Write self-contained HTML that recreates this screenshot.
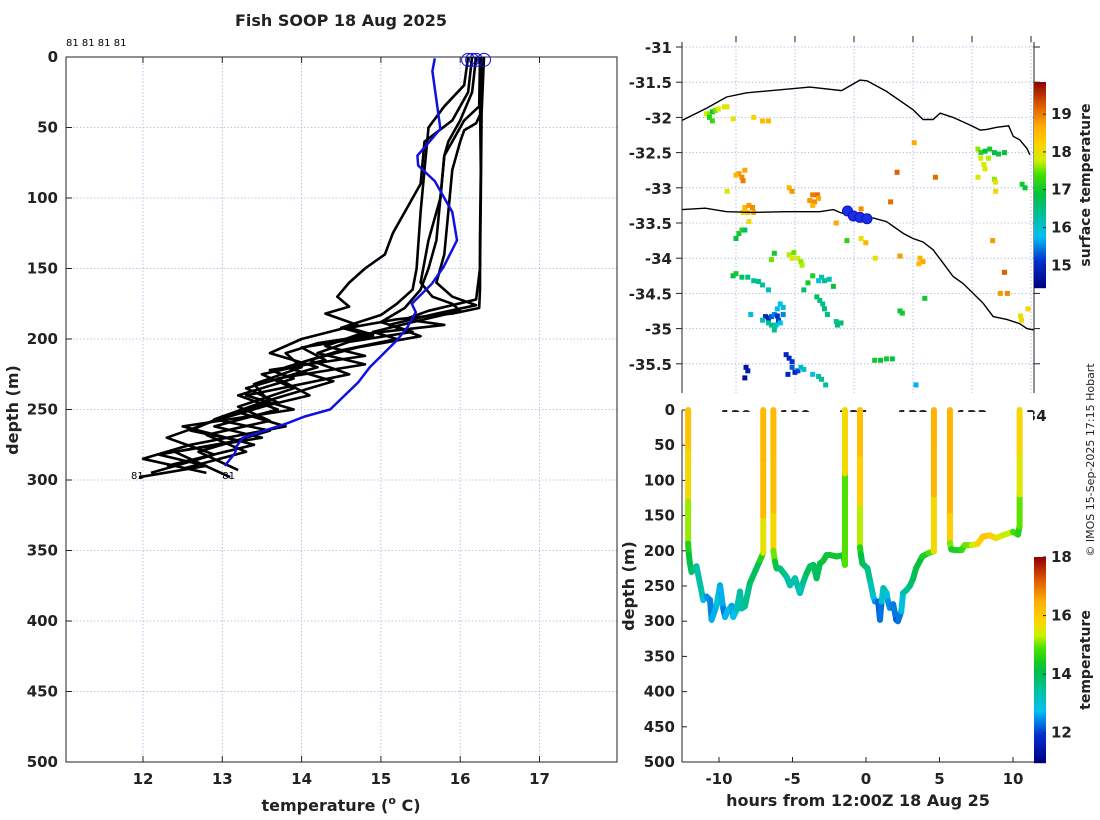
<!DOCTYPE html>
<html><head><meta charset="utf-8"><style>
html,body{margin:0;padding:0;background:#fff;}
svg{display:block;font-family:"DejaVu Sans","Liberation Sans",sans-serif;}
.tk{font-size:15px;font-weight:bold;fill:#222;}
.lb{font-size:16px;font-weight:bold;fill:#222;}
</style></head><body>
<svg id="fig" width="1100" height="820" viewBox="0 0 1100 820" xmlns="http://www.w3.org/2000/svg">
<text x="341" y="26" text-anchor="middle" class="lb">Fish SOOP 18 Aug 2025</text>
<text x="66" y="46" font-size="10" fill="#000">81 81 81 81</text>
<text transform="translate(18,410) rotate(-90)" text-anchor="middle" class="lb">depth (m)</text>
<text x="341" y="811" text-anchor="middle" class="lb">temperature (<tspan font-size="11" dy="-7">o</tspan><tspan dy="7"> C)</tspan></text>
<text transform="translate(634,586) rotate(-90)" text-anchor="middle" class="lb">depth (m)</text>
<text x="858" y="806" text-anchor="middle" class="lb">hours from 12:00Z 18 Aug 25</text>
<text transform="translate(1090,185) rotate(-90)" text-anchor="middle" font-size="14" font-weight="bold" fill="#222">surface temperature</text>
<text transform="translate(1090,660) rotate(-90)" text-anchor="middle" font-size="14" font-weight="bold" fill="#222">temperature</text>
<text transform="translate(1094,460) rotate(-90)" text-anchor="middle" font-size="11" fill="#222">© IMOS 15-Sep-2025 17:15 Hobart</text>
</svg>
<script>
// ---------- data: left profile plot ----------
const tempTicks=[12,13,14,15,16,17];
const depthTicks=[0,50,100,150,200,250,300,350,400,450,500];
const blueTemp=[15.68,15.65,15.75,15.46,15.47,15.68,15.9,15.96,15.79,15.64,15.39,15.44,15.33,15.2,14.86,14.71,14.36,14.04,13.81,13.26,13.18,13.16,13.03];
const blueDepth=[1,10,51,70,77,88,110,130,149,161,175,181,192,201,220,231,250,255,260,270,276,281,290];
const profTemps=[
[16.28,16.25,16.26,16.25,16.25,16.24,15.9,15.2,14.6,14.9,14.2,13.8,14.0,13.4,13.6,13.0,12.6,13.2,12.2,12.8,11.95],
[16.3,16.27,16.26,16.25,16.2,15.6,15.3,15.8,14.7,14.3,14.8,13.6,13.9,13.2,13.7,12.9,13.5,12.4,13.1],
[16.1,16.05,15.8,15.6,15.55,15.5,15.45,15.4,15.2,15.0,14.5,14.9,14.0,14.3,13.5,13.9,13.2,13.6,12.8,13.3,12.5],
[16.15,16.1,15.9,15.55,15.5,15.3,15.15,15.05,14.8,14.6,14.45,14.6,14.3,14.7,14.0,13.6,14.2,13.3,13.7,12.9,12.3,12.9,12.1],
[16.2,16.15,16.0,15.85,15.8,15.75,15.7,15.6,15.5,15.3,15.0,15.4,14.6,14.2,14.8,13.7,14.1,13.2,13.8,12.6,12.0,12.8],
[16.25,16.24,16.05,15.95,15.8,15.75,15.6,15.5,15.65,15.9,16.0,15.4,14.9,15.2,14.5,13.8,14.4,13.5,12.9,13.6,12.7,13.2],
[16.27,16.26,16.2,16.05,16.0,15.9,15.85,15.8,15.7,15.9,16.2,15.7,15.1,15.5,14.7,14.1,14.6,13.3,13.9,12.5,13.4,12.3]
];
const profDepths=[
[0,30,80,130,165,178,182,186,192,197,203,210,220,232,245,255,265,272,282,290,298],
[0,40,100,150,172,180,186,190,197,205,212,222,228,240,250,262,270,280,298],
[0,20,35,50,80,110,150,165,175,183,192,198,206,215,225,235,248,258,268,280,292],
[0,25,45,60,90,110,125,140,150,160,170,177,182,190,200,210,220,235,245,258,270,282,295],
[0,25,45,60,70,100,130,150,165,178,188,195,202,210,218,228,240,252,262,275,285,295],
[0,35,45,55,70,100,130,160,170,175,180,188,195,200,208,220,230,245,257,265,280,293],
[0,40,47,52,60,80,110,140,160,170,176,182,190,198,206,215,225,240,250,262,275,290]
];
const surfTemps=[16.1,16.15,16.2,16.3];
const endTemps=[11.95,13.1];
const endDepths=[298,298];
// ---------- data: map ----------
const latTicks=[-31,-31.5,-32,-32.5,-33,-33.5,-34,-34.5,-35,-35.5];
const lonTicks=[129,130,131,132,133,134];
const lonTickLabels=["129","130","131","132","133","134"];
const coastLon=[128.09,128.50,128.84,129.18,129.86,130.25,130.79,131.10,131.22,131.55,132.0,132.17,132.34,132.46,132.68,132.97,133.14,133.25,133.42,133.62,133.70,133.81,133.93,133.98];
const coastLat=[-32.04,-31.87,-31.71,-31.65,-31.60,-31.57,-31.62,-31.47,-31.48,-31.63,-31.89,-32.03,-32.03,-31.94,-32.0,-32.11,-32.18,-32.17,-32.14,-32.12,-32.27,-32.32,-32.44,-32.53];
const shelfLon=[128.09,128.48,128.84,129.29,129.86,130.42,130.65,130.76,130.99,131.33,131.55,131.84,132.0,132.17,132.34,132.51,132.68,132.85,133.02,133.19,133.36,133.59,133.81,133.93,134.06];
const shelfLat=[-33.31,-33.29,-33.34,-33.35,-33.34,-33.34,-33.31,-33.35,-33.41,-33.43,-33.48,-33.65,-33.72,-33.77,-33.88,-34.07,-34.26,-34.36,-34.50,-34.64,-34.83,-34.87,-34.93,-35.0,-35.02];
const trackLon=[130.89,130.99,131.10,131.22];
const trackLat=[-33.33,-33.40,-33.42,-33.44];
const sstCells=[
[128.5,-31.95,17.8],[128.55,-31.95,17.6],[128.55,-32.0,17.2],[128.6,-31.92,17.0],[128.65,-31.9,17.5],[128.6,-32.05,17.3],[128.7,-31.88,17.8],[128.8,-31.85,18.0],[128.85,-31.85,17.9],[128.95,-32.02,18.0],[129.3,-32.0,18.2],[129.45,-32.05,18.5],[129.55,-32.05,18.6],
[129.05,-32.8,18.8],[129.1,-32.85,18.9],[129.15,-32.75,18.7],[129.12,-32.9,19.0],[129.0,-32.82,18.6],
[129.9,-33.0,18.6],[129.95,-33.05,18.8],
[130.3,-33.1,19.0],[130.38,-33.1,19.1],[130.25,-33.18,18.8],[130.33,-33.2,18.9],[130.4,-33.15,18.7],[130.3,-33.25,18.6],
[129.15,-33.28,18.6],[129.22,-33.25,18.8],[129.28,-33.28,18.9],[129.3,-33.35,18.7],[129.2,-33.35,18.4],[129.12,-33.35,18.2],[129.22,-33.48,18.0],
[129.05,-33.65,17.0],[129.1,-33.6,17.2],[129.0,-33.72,16.9],[129.15,-33.6,16.7],
[129.9,-33.95,17.7],[129.98,-33.92,17.5],[130.05,-34.0,17.8],[130.1,-34.05,17.6],[129.95,-34.0,17.9],[130.12,-34.1,17.7],[129.6,-34.02,17.5],[129.65,-33.93,17.0],
[128.95,-34.25,16.8],[129.0,-34.22,17.0],[129.1,-34.27,16.6],[129.2,-34.27,16.5],[129.3,-34.32,16.4],[129.38,-34.33,16.5],[129.45,-34.38,16.3],[129.55,-34.45,16.2],
[130.15,-34.45,16.6],[130.22,-34.35,17.0],[130.3,-34.25,17.1],[130.45,-34.27,16.2],[130.5,-34.32,16.4],[130.58,-34.3,16.2],[130.4,-34.32,15.8],[130.65,-34.4,16.9],
[130.37,-34.55,16.7],[130.42,-34.6,16.5],[130.47,-34.65,16.4],[130.5,-34.72,16.6],[130.55,-34.8,16.5],[130.7,-34.9,16.3],[130.78,-34.92,16.6],[130.72,-34.95,16.5],
[129.25,-34.8,15.9],[129.5,-34.83,15.0],[129.55,-34.85,14.9],[129.6,-34.83,15.3],[129.65,-34.8,15.5],[129.7,-34.72,15.8],[129.75,-34.65,15.8],[129.8,-34.7,15.9],[129.8,-34.8,15.5],[129.72,-34.88,15.2],[129.55,-34.92,16.3],[129.6,-34.95,16.5],[129.68,-34.95,16.0],[129.65,-35.02,16.4],[129.75,-34.92,15.8],[129.45,-34.88,16.2],[129.7,-34.82,15.1],
[129.85,-35.37,15.0],[129.9,-35.42,14.9],[129.95,-35.47,15.1],[129.95,-35.55,15.3],[130.0,-35.62,14.8],[130.05,-35.6,15.2],[130.15,-35.58,16.0],[129.88,-35.65,15.0],[130.3,-35.65,15.8],[130.4,-35.68,16.3],[130.45,-35.72,16.4],[130.52,-35.8,16.3],[130.1,-35.55,16.1],
[129.17,-35.55,14.7],[129.2,-35.6,14.8],[129.15,-35.7,14.6],
[131.35,-35.45,17.0],[131.45,-35.45,16.9],[131.55,-35.43,17.0],[131.65,-35.43,16.8],
[131.78,-34.75,16.9],[131.82,-34.78,17.0],[132.2,-34.57,17.0],
[132.12,-34.0,18.6],[132.17,-34.05,18.7],[132.1,-34.08,18.5],
[133.1,-32.45,17.6],[133.15,-32.5,17.2],[133.22,-32.48,16.8],[133.3,-32.45,17.0],[133.38,-32.5,16.8],[133.45,-32.52,16.9],[133.55,-32.5,16.9],[133.15,-32.58,17.8],[133.28,-32.58,17.7],
[133.2,-32.67,17.8],[133.22,-32.73,17.9],[133.1,-32.85,17.9],[133.38,-32.88,17.6],[133.4,-32.92,18.0],[133.4,-33.05,18.1],
[133.85,-32.95,17.0],[133.9,-33.0,16.9],[133.82,-34.82,18.0],[133.84,-34.88,18.1],
[132.02,-32.36,18.7],[131.73,-32.78,19.2],[132.38,-32.85,19.1],[131.62,-33.2,19.1],[133.35,-33.75,18.8],[133.55,-34.2,19.2],[133.48,-34.5,18.8],[133.6,-34.5,18.9],[130.88,-33.75,17.2],[131.2,-33.78,18.6],[131.12,-33.72,18.0],[131.36,-34.0,18.0],[131.78,-33.97,18.8],[132.05,-35.8,15.7],[128.85,-33.05,17.9],[130.7,-33.5,18.7],[131.12,-33.3,18.9],[133.95,-34.72,18.2]
];
const sstTicks=[15,16,17,18,19];
// ---------- data: time/depth plot ----------
const hourTicks=[-10,-5,0,5,10];
const diveHours=[
[-12.1,-12.1,-12.1,-12.1,-12.05,-11.98,-11.87,-11.53,-11.07,-10.85,-10.61,-10.5,-10.16,-9.93,-9.71,-9.59,-9.37,-9.14,-9.03,-8.8,-8.57,-8.46,-8.24,-7.9,-7.22,-6.99,-6.99,-6.99,-6.99],
[-6.3,-6.3,-6.3,-6.3,-6.2,-6.08,-5.85,-5.4,-5.17,-4.83,-4.49,-4.26,-4.04,-3.81,-3.58,-3.36,-3.13,-2.9,-2.68,-2.45,-2.0,-1.54,-1.43,-1.43,-1.43],
[-0.41,-0.41,-0.41,-0.41,-0.35,-0.25,0.1,0.3,0.5,0.61,0.83,0.95,1.06,1.18,1.4,1.5,1.62,1.85,2.06,2.17,2.4,2.52,2.75,2.98,3.2,3.4,3.83,4.28,4.62,4.62,4.62,4.62],
[5.71,5.71,5.71,5.71,5.8,6.03,6.5,6.71,7.2,7.6,7.94,8.4,8.84,9.3,10.0,10.34,10.45,10.45,10.45,10.45]
];
const diveDepths=[
[0,60,130,190,205,218,230,222,270,265,270,298,277,249,282,294,284,278,294,284,258,282,279,246,214,203,150,70,0],
[0,70,150,200,215,225,225,237,249,239,260,244,232,222,220,239,218,214,206,206,208,206,220,90,0],
[0,70,140,195,205,218,225,245,265,272,272,298,272,253,260,272,281,276,298,300,286,260,256,250,240,225,208,203,201,120,50,0],
[0,80,150,189,198,199,199,192,192,190,180,178,182,178,173,177,165,120,60,0]
];
const diveTemps=[
[16.3,16.0,15.6,14.7,14.3,14.1,13.9,13.8,13.0,12.6,12.3,12.5,12.8,13.1,12.2,12.5,12.9,12.7,12.5,13.0,13.6,13.2,13.4,13.8,14.1,15.0,16.2,16.3,16.3],
[16.3,16.3,16.1,15.5,14.5,14.1,13.8,13.6,13.1,13.6,13.1,13.5,13.9,14.0,14.0,13.8,14.1,14.2,14.3,14.3,14.3,14.3,14.2,15.6,15.9],
[16.3,16.1,15.7,14.8,14.3,14.0,13.8,13.5,13.0,12.6,12.4,12.0,12.6,13.5,13.2,12.6,12.3,12.6,12.1,12.0,12.6,13.2,13.4,13.6,13.9,14.1,14.3,14.6,15.2,16.3,16.4,16.4],
[16.3,16.4,16.3,15.6,14.5,14.3,14.6,14.8,15.2,15.7,16.1,16.2,15.7,15.5,15.1,14.5,14.6,15.3,15.7,15.9]
];
const btmTempTicks=[12,14,16,18];

// ---------- helpers ----------
const svg=document.getElementById('fig');
const NS='http://www.w3.org/2000/svg';
function mk(tag,attrs,parent){const e=document.createElementNS(NS,tag);for(const k in attrs)e.setAttribute(k,attrs[k]);(parent||svg).appendChild(e);return e;}
const stops=[[0,[0,0,127]],[0.13,[0,48,208]],[0.25,[0,192,240]],[0.35,[0,192,160]],[0.45,[0,192,64]],[0.55,[64,224,0]],[0.62,[208,240,0]],[0.7,[255,208,0]],[0.78,[255,176,0]],[0.88,[224,96,0]],[1,[144,0,0]]];
function cmap(f){f=Math.max(0,Math.min(1,f));for(let i=1;i<stops.length;i++){if(f<=stops[i][0]){const a=stops[i-1],b=stops[i];const u=(f-a[0])/(b[0]-a[0]);const c=a[1].map((v,j)=>Math.round(v+(b[1][j]-v)*u));return `rgb(${c[0]},${c[1]},${c[2]})`;}}return 'rgb(144,0,0)';}
const GRID='#a8b4e0';

// ---------- left plot ----------
const L={x0:66,x1:617,y0:57,y1:762};
const xT=t=>143+(t-12)*79.3;
const yD=d=>L.y0+d*1.41;
const gL=mk('g',{});


tempTicks.forEach(t=>{
 const l=mk('line',{x1:xT(t),x2:xT(t),y1:L.y0,y2:L.y1,stroke:GRID,'stroke-width':0.8,'stroke-dasharray':'1.5,2'},gL);
 
 
 mk('line',{x1:xT(t),x2:xT(t),y1:L.y0,y2:L.y0+6,stroke:'#222'},gL);
 mk('line',{x1:xT(t),x2:xT(t),y1:L.y1,y2:L.y1-6,stroke:'#222'},gL);
 const tx=mk('text',{x:xT(t),y:784,'text-anchor':'middle',class:'tk'},gL);tx.textContent=t;
 
 
});
depthTicks.forEach(d=>{
 const l=mk('line',{x1:L.x0,x2:L.x1,y1:yD(d),y2:yD(d),stroke:GRID,'stroke-width':0.8,'stroke-dasharray':'1.5,2'},gL);
 
 
 mk('line',{x1:L.x0,x2:L.x0+6,y1:yD(d),y2:yD(d),stroke:'#222'},gL);
 const tx=mk('text',{x:58,y:yD(d)+5,'text-anchor':'end',class:'tk'},gL);tx.textContent=d;
 
 
});
const boxL=mk('rect',{x:L.x0,y:L.y0,width:L.x1-L.x0,height:L.y1-L.y0,fill:'none',stroke:'#222','stroke-width':1},gL);


profTemps.forEach((ts,i)=>{
 const pts=ts.map((t,j)=>xT(t).toFixed(1)+','+yD(profDepths[i][j]).toFixed(1)).join(' ');
 const p=mk('polyline',{points:pts,fill:'none',stroke:'#000','stroke-width':2.6,'stroke-linejoin':'round'},gL);
 
 
});
const bl=mk('polyline',{points:blueTemp.map((t,j)=>xT(t).toFixed(1)+','+yD(blueDepth[j]).toFixed(1)).join(' '),fill:'none',stroke:'#1010e0','stroke-width':2.5},gL);


surfTemps.forEach(t=>{
 const c=mk('circle',{cx:xT(t),cy:yD(2),r:6.5,fill:'none',stroke:'#1010e0','stroke-width':1},gL);
 
 
});
endTemps.forEach((t,i)=>{
 const tx=mk('text',{x:xT(t)-8,y:yD(endDepths[i])+2,'font-size':10,fill:'#000'},gL);tx.textContent='81';
 
 
});

// ---------- map ----------
const M={x0:682,x1:1034,y0:42,y1:393};
const xL=lon=>736+(lon-129)*59;
const yL=lat=>47+(-31-lat)*70.4;
const sMin=14.4,sMax=19.85;
const gM=mk('g',{});


mk('clipPath',{id:'mclip'},gM);
mk('rect',{x:M.x0,y:M.y0,width:M.x1-M.x0,height:M.y1-M.y0},document.getElementById('mclip'));
latTicks.forEach(la=>{
 const l=mk('line',{x1:M.x0,x2:M.x1,y1:yL(la),y2:yL(la),stroke:GRID,'stroke-width':0.8,'stroke-dasharray':'1.5,2'},gM);
 
 
 mk('line',{x1:M.x0-6,x2:M.x0,y1:yL(la),y2:yL(la),stroke:'#222'},gM);
 mk('line',{x1:M.x1,x2:M.x1+6,y1:yL(la),y2:yL(la),stroke:'#222'},gM);
 const tx=mk('text',{x:672,y:yL(la)+6,'text-anchor':'end',class:'tk'},gM);tx.textContent=la;
 
 
});
lonTicks.forEach((lo,i)=>{
 const l=mk('line',{x1:xL(lo),x2:xL(lo),y1:M.y0,y2:M.y1,stroke:GRID,'stroke-width':0.8,'stroke-dasharray':'1.5,2'},gM);
 
 
 mk('line',{x1:xL(lo),x2:xL(lo),y1:M.y0-6,y2:M.y0,stroke:'#222'},gM);
 const tx=mk('text',{x:xL(lo),y:421,'text-anchor':'middle',class:'tk'},gM);tx.textContent=lonTickLabels[i];
 
 
});
const cg=mk('g',{'clip-path':'url(#mclip)'},gM);
sstCells.forEach(c=>{
 const r=mk('rect',{x:xL(c[0])-2.5,y:yL(c[1])-2.5,width:5,height:5,fill:cmap((c[2]-sMin)/(sMax-sMin))},cg);
 
 
});
const co=mk('polyline',{points:coastLon.map((v,i)=>xL(v).toFixed(1)+','+yL(coastLat[i]).toFixed(1)).join(' '),fill:'none',stroke:'#000','stroke-width':1.4},cg);


const sh=mk('polyline',{points:shelfLon.map((v,i)=>xL(v).toFixed(1)+','+yL(shelfLat[i]).toFixed(1)).join(' '),fill:'none',stroke:'#000','stroke-width':1.4},cg);


trackLon.forEach((v,i)=>{
 const c=mk('circle',{cx:xL(v),cy:yL(trackLat[i]),r:5,fill:'#1a2ee8',stroke:'#1010c0'},cg);
 
 
});
mk('line',{x1:M.x0,x2:M.x0,y1:M.y0,y2:M.y1,stroke:'#222'},gM);
mk('line',{x1:M.x1,x2:M.x1,y1:M.y0,y2:M.y1,stroke:'#222'},gM);
// map colorbar
const CB1={x:1034,w:12,y0:82,y1:288};
const ySc=t=>CB1.y1-(t-sMin)/(sMax-sMin)*(CB1.y1-CB1.y0);
for(let y=CB1.y0;y<CB1.y1;y+=2){const f=(CB1.y1-y-1)/(CB1.y1-CB1.y0);mk('rect',{x:CB1.x,y:y,width:CB1.w,height:2.2,fill:cmap(f)},gM);}
sstTicks.forEach(t=>{
 mk('line',{x1:CB1.x+CB1.w-3,x2:CB1.x+CB1.w,y1:ySc(t),y2:ySc(t),stroke:'#222'},gM);
 const tx=mk('text',{x:1051,y:ySc(t)+5,class:'tk'},gM);tx.textContent=t;
 
 
});

// ---------- time-depth plot ----------
const B={x0:682,x1:1034,y0:410,y1:762};
const xH=h=>866+h*14.7;
const yB=d=>B.y0+d*0.704;
const bMin=11,bMax=18;
const gB=mk('g',{});


mk('rect',{x:B.x0+1,y:412,width:B.x1-B.x0-2,height:B.y1-412,fill:'#fff'},gB);
depthTicks.forEach(d=>{
 mk('line',{x1:B.x0,x2:B.x0+5,y1:yB(d),y2:yB(d),stroke:'#222'},gB);
 const tx=mk('text',{x:675,y:yB(d)+5,'text-anchor':'end',class:'tk'},gB);tx.textContent=d;
 
 
});
hourTicks.forEach(h=>{
 mk('line',{x1:xH(h),x2:xH(h),y1:B.y1,y2:B.y1-5,stroke:'#222'},gB);
 const tx=mk('text',{x:xH(h),y:784,'text-anchor':'middle',class:'tk'},gB);tx.textContent=h;
 
 
});
mk('line',{x1:B.x0,x2:B.x0,y1:B.y0,y2:B.y1,stroke:'#222'},gB);
mk('line',{x1:B.x0,x2:B.x1,y1:B.y1,y2:B.y1,stroke:'#222'},gB);
diveHours.forEach((hs,i)=>{
 const gd=mk('g',{},gB);
 
 
 for(let j=1;j<hs.length;j++){
  const t=(diveTemps[i][j-1]+diveTemps[i][j])/2;
  mk('line',{x1:xH(hs[j-1]),y1:yB(diveDepths[i][j-1]),x2:xH(hs[j]),y2:yB(diveDepths[i][j]),stroke:cmap((t-bMin)/(bMax-bMin)),'stroke-width':6,'stroke-linecap':'round'},gd);
 }
});
// bottom colorbar
const CB2={x:1034,w:12,y0:557,y1:762};
const yCb=t=>CB2.y1-(t-bMin)/(bMax-bMin)*(CB2.y1-CB2.y0);
for(let y=CB2.y0;y<CB2.y1;y+=2){const f=(CB2.y1-y-1)/(CB2.y1-CB2.y0);mk('rect',{x:CB2.x,y:y,width:CB2.w,height:2.2,fill:cmap(f)},gB);}
btmTempTicks.forEach(t=>{
 mk('line',{x1:CB2.x+CB2.w-3,x2:CB2.x+CB2.w,y1:yCb(t),y2:yCb(t),stroke:'#222'},gB);
 const tx=mk('text',{x:1051,y:yCb(t)+5,class:'tk'},gB);tx.textContent=t;
 
 
});
</script>
</body></html>
